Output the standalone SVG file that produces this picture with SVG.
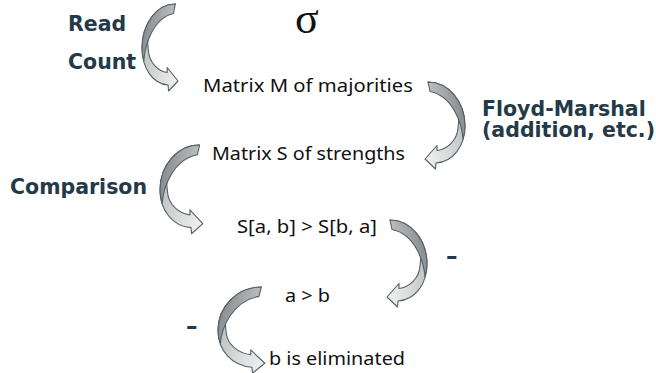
<svg xmlns="http://www.w3.org/2000/svg" xmlns:xlink="http://www.w3.org/1999/xlink" width="656" height="373" viewBox="0 0 656 373">
<style>
.b{font-family:"DejaVu Sans",Verdana,sans-serif;font-weight:bold;font-size:20.5px;fill:#243a48}
.t{font-family:"Noto Sans","Open Sans",sans-serif;font-size:18.5px;fill:#111}
.d{font-family:"DejaVu Sans",sans-serif;font-weight:bold;font-size:23px;fill:#243a48}
.edge{stroke:#50626b;stroke-width:1.1;stroke-linejoin:round;vector-effect:non-scaling-stroke}
</style>
<defs>
<linearGradient id="gDark" x1="0" y1="0" x2="1" y2="0.3">
<stop offset="0" stop-color="#7f8182"/><stop offset="1" stop-color="#c2c2c2"/>
</linearGradient>
<linearGradient id="gLight" x1="0" y1="0.3" x2="1" y2="1">
<stop offset="0" stop-color="#b9b9b9"/><stop offset="0.6" stop-color="#dedede"/><stop offset="1" stop-color="#f3f3f3"/>
</linearGradient>
<g id="carrow">
<path class="edge" fill="url(#gLight)" d="M29,81 L29.5,87 L40,77 L28,63.5 L28,68.5 C18,67 8,59 7,46 C6,38 6,31 8,26 L37,0 C16.6,0 0,19.7 0,44 C0,64 12,80 29,81 Z"/>
<path class="edge" fill="url(#gDark)" d="M37,0 C16.6,0 0,19.7 0,44 C0,49 0.8,53 2,57 C3,42 12,14 35,9.5 Z"/>
</g>
</defs>
<g id="connectors">
<use xlink:href="#carrow" transform="translate(142,4) scale(0.9,1)"/>
<use xlink:href="#carrow" transform="translate(465,82) scale(-1,1)"/>
<use xlink:href="#carrow" transform="translate(160,145) scale(1.07,1.02)"/>
<use xlink:href="#carrow" transform="translate(427,220) scale(-1,1)"/>
<use xlink:href="#carrow" transform="translate(218,287) scale(1.17,0.99)"/>
</g>
<g id="label-read"><text class="b" x="68" y="31">Read</text></g>
<g id="label-count"><text class="b" x="68" y="69">Count</text></g>
<g id="sigma"><text x="295" y="33" font-family="'Liberation Serif',serif" font-size="44" fill="#111">σ</text></g>
<g id="node-matrix-m"><text class="t" x="203" y="92" textLength="210" lengthAdjust="spacingAndGlyphs">Matrix M of majorities</text></g>
<g id="label-floyd"><text class="b" x="482" y="116">Floyd-Marshal</text><text class="b" x="482" y="137">(addition, etc.)</text></g>
<g id="node-matrix-s"><text class="t" x="212" y="160" textLength="193" lengthAdjust="spacingAndGlyphs">Matrix S of strengths</text></g>
<g id="label-comparison"><text class="b" x="10" y="194">Comparison</text></g>
<g id="node-compare"><text class="t" x="237" y="233" textLength="140" lengthAdjust="spacingAndGlyphs">S[a, b] &gt; S[b, a]</text></g>
<g id="label-minus-1"><text class="d" x="446" y="264">–</text></g>
<g id="node-agtb"><text class="t" x="285" y="302" textLength="45" lengthAdjust="spacingAndGlyphs">a &gt; b</text></g>
<g id="label-minus-2"><text class="d" x="186" y="334">–</text></g>
<g id="node-elim"><text class="t" x="269" y="365" textLength="136" lengthAdjust="spacingAndGlyphs">b is eliminated</text></g>
</svg>
